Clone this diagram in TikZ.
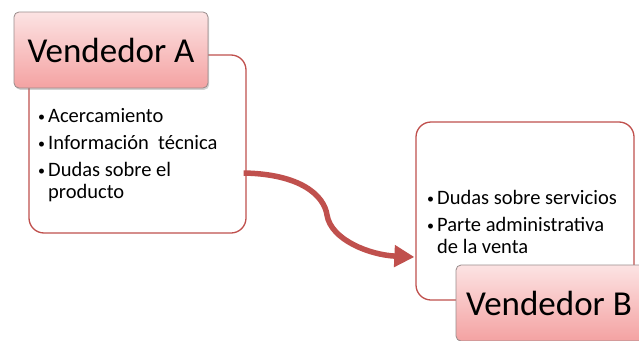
\documentclass[tikz,border=0pt]{standalone}
\usepackage{fontspec}
\setmainfont{Carlito}
\usetikzlibrary{arrows.meta,shadows}
\definecolor{accent}{HTML}{C0504D}
\definecolor{pinktop}{HTML}{FCE3E3}
\definecolor{pinkbot}{HTML}{F4A2A2}
\definecolor{titleborder}{HTML}{9A8C8C}
\tikzset{
  outerbox/.style={draw=accent, line width=1.3pt, rounded corners=15pt, fill=white},
  titlebox/.style={draw=titleborder, line width=0.8pt, rounded corners=5pt,
    top color=pinktop, bottom color=pinkbot,
    drop shadow={shadow xshift=1.2pt, shadow yshift=-1.8pt, opacity=0.35},
    font=\fontsize{35}{40}\selectfont, inner sep=0pt},
  bullettext/.style={anchor=north west, align=left, inner sep=0pt,
    font=\fontsize{20.5}{22.5}\selectfont},
  flow/.style={draw=accent, line width=5.5pt, -{Triangle[length=20pt,width=21pt]}}
}
\newcommand{\bul}{\makebox[12pt][l]{\hspace{2pt}\raisebox{1pt}{\fontsize{14}{14}\selectfont\textbullet}}}
\newcommand{\nobul}{\makebox[12pt][l]{}}
\begin{document}
\begin{tikzpicture}[x=1pt,y=-1pt]
\useasboundingbox (0,0) rectangle (639,340);
\clip (0,0) rectangle (639,340);
\fill[white] (0,0) rectangle (639,340);
% Box A
\node[outerbox, minimum width=217pt, minimum height=178pt] (boxA) at (137.5,144) {};
\node[titlebox, minimum width=194pt, minimum height=76pt] (titleA) at (111,50) {Vendedor A};
\node[bullettext] (textA) at (36,108) {\bul Acercamiento\\[4.5pt]
\bul Información\ \ técnica\\[4.5pt]
\bul Dudas sobre el\\
\nobul producto};
% Box B
\node[outerbox, minimum width=218pt, minimum height=178pt] (boxB) at (525,211) {};
\node[bullettext] (textB) at (425,190) {\bul Dudas sobre servicios\\[4.5pt]
\bul Parte administrativa\\
\nobul de la venta};
\node[titlebox, minimum width=194pt, minimum height=76pt] (titleB) at (553,303) {\hspace*{-8pt}Vendedor B};
% Arrow
\draw[flow] ([xshift=-3pt,yshift=-29pt]boxA.east)
  .. controls (300,174) and (324,195) .. (327,215)
  .. controls (331,240) and (370,255) .. ([xshift=-1pt,yshift=-46pt]boxB.west);
\end{tikzpicture}
\end{document}
